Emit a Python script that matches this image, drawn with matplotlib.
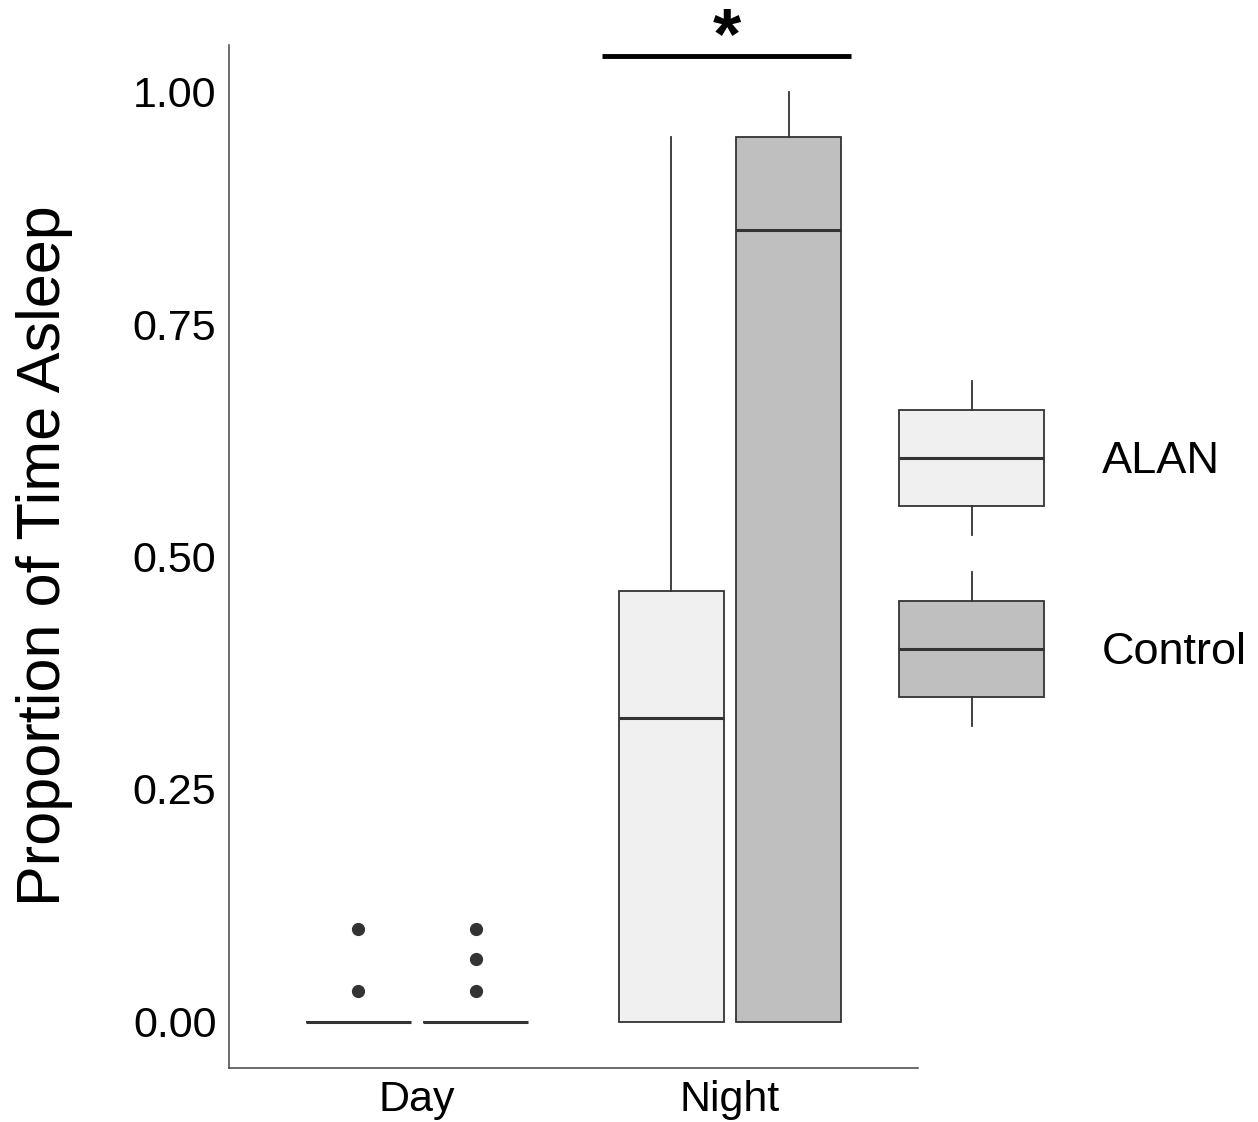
import numpy as np
import matplotlib
matplotlib.use('Agg')
from matplotlib import pyplot as plt

plt.rcParams['font.family'] = ['Liberation Sans', 'DejaVu Sans']

# Box summary values (proportion of time asleep)
periods = ['Day', 'Night']
groups = ['ALAN', 'Control']
group_fill = {'ALAN': '#F0F0F0', 'Control': '#BFBFBF'}

# per period, per group: [lower whisker, q1, median, q3, upper whisker]
day_alan = [0.0, 0.0, 0.0, 0.0, 0.0]
day_control = [0.0, 0.0, 0.0, 0.0, 0.0]
night_alan = [0.0, 0.0, 0.326, 0.4625, 0.951]
night_control = [0.0, 0.0, 0.851, 0.951, 1.0]

day_alan_out = [0.033, 0.1]
day_control_out = [0.033, 0.067, 0.1]
night_alan_out = []
night_control_out = []

sig_pair = ('Night', 'ALAN', 'Control')
sig_label = '*'

summary = {
    ('Day', 'ALAN'): (day_alan, day_alan_out),
    ('Day', 'Control'): (day_control, day_control_out),
    ('Night', 'ALAN'): (night_alan, night_alan_out),
    ('Night', 'Control'): (night_control, night_control_out),
}

edge = '#333333'
dodge = 0.375
box_w = 0.335

fig = plt.figure(figsize=(12.58, 11.22), dpi=100)
ax = fig.add_axes([229/1258, 1 - 1068/1122, 689/1258, (1068-45)/1122])


def stats_dict(vals, out):
    lo, q1, med, q3, hi = vals
    return dict(whislo=lo, q1=q1, med=med, q3=q3, whishi=hi, fliers=out)


def draw_boxes(axis, stats, pos, fills, width):
    bp = axis.bxp(stats, positions=pos, widths=width, patch_artist=True,
                  showcaps=False, manage_ticks=False,
                  boxprops=dict(edgecolor=edge, linewidth=1.3),
                  whiskerprops=dict(color=edge, linewidth=1.3),
                  medianprops=dict(color=edge, linewidth=2.2),
                  flierprops=dict(marker='o', markerfacecolor=edge, markeredgecolor=edge,
                                  markersize=8.5, linestyle='none'))
    for patch, fc in zip(bp['boxes'], fills):
        patch.set_facecolor(fc)
    return bp


stats, pos, fills = [], [], []
for i, p in enumerate(periods):
    for j, g in enumerate(groups):
        vals, out = summary[(p, g)]
        stats.append(stats_dict(vals, out))
        pos.append(i + 1 + (j - 0.5) * dodge)
        fills.append(group_fill[g])
draw_boxes(ax, stats, pos, fills, box_w)

ax.set_xlim(0.4, 2.6)
ax.set_ylim(-0.05, 1.05)
ax.set_xticks([1, 2])
ax.set_xticklabels(periods, fontsize=31)
yt = [0, 0.25, 0.5, 0.75, 1.0]
ax.set_yticks(yt)
ax.set_yticklabels(['%0.2f' % v for v in yt], fontsize=31)
ax.tick_params(length=0, pad=9)
for s in ['top', 'right']:
    ax.spines[s].set_visible(False)
for s in ['left', 'bottom']:
    ax.spines[s].set_color('#444444')
    ax.spines[s].set_linewidth(1.1)

# significance bar
pi = periods.index(sig_pair[0]) + 1
x0 = pi + (groups.index(sig_pair[1]) - 0.5) * dodge - 0.222
x1 = pi + (groups.index(sig_pair[2]) - 0.5) * dodge + 0.2
ax.plot([x0, x1], [1.0386, 1.0386], color='black', linewidth=3.5, clip_on=False,
        solid_capstyle='butt')
ax.text((x0 + x1) / 2, 1.036, sig_label, ha='center', va='baseline', fontsize=52,
        fontweight='bold', clip_on=False)

fig.text(45/1258, 1 - 556/1122, 'Proportion of Time Asleep', rotation=90,
         ha='center', va='center', fontsize=44)

# legend with boxplot keys
lax = fig.add_axes([880/1258, 1 - 744.5/1122, 183/1258, 382/1122])
lax.set_xlim(0, 1)
lax.set_ylim(2, 0)
lax.axis('off')
key_stats = [dict(whislo=r + 0.5 - 0.403, q1=r + 0.5 - 0.251, med=r + 0.5,
                  q3=r + 0.5 + 0.251, whishi=r + 0.5 + 0.403, fliers=[])
             for r in range(len(groups))]
draw_boxes(lax, key_stats, [0.5] * len(groups), [group_fill[g] for g in groups], 0.79)
for r, g in enumerate(groups):
    lax.text(1.213, r + 0.5 + 0.08, g, ha='left', va='baseline', fontsize=32.5,
             clip_on=False)

fig.savefig('out.png', dpi=100)
